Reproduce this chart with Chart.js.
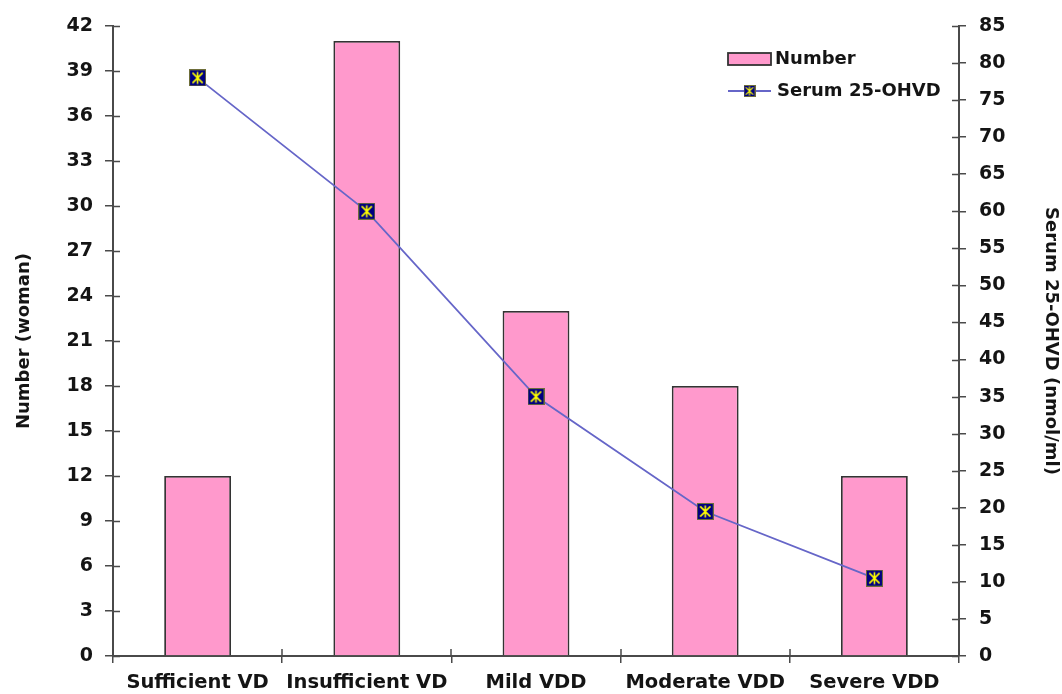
<!DOCTYPE html>
<html>
<head>
<meta charset="utf-8">
<script src="https://cdn.jsdelivr.net/npm/chart.js@4.4.1/dist/chart.umd.min.js"></script>
<style>
  html, body { margin: 0; padding: 0; background: #ffffff; }
  #wrap { width: 1062px; height: 694px; }
</style>
</head>
<body>
<div id="wrap"><canvas id="c" width="1062" height="694"></canvas></div>
<script>
// Vitamin D status groups
const categories = ['Sufficient VD', 'Insufficient VD', 'Mild VDD', 'Moderate VDD', 'Severe VDD'];
// Number of women in each group (left axis)
const numberOfWomen = [12, 41, 23, 18, 12];
// Mean serum 25-OHVD per group, nmol/ml (right axis)
const serum25OHVD = [78, 60, 35, 19.5, 10.5];
// Axis ranges and tick steps
const leftAxisRange = [0, 42];
const leftAxisStep = 3;
const rightAxisRange = [0, 85];
const rightAxisStep = 5;

const TEXT = '#141414';
const AXIS = '#4a4a4a';
const BAR_FILL = '#FF99CC';
const BAR_EDGE = '#333333';
const LINE = '#6666C8';

// Star marker: navy square with a yellow X and vertical stroke
function makeMarker(size) {
  const cv = document.createElement('canvas');
  cv.width = size; cv.height = size;
  const g = cv.getContext('2d');
  g.fillStyle = '#6e6e3a';
  g.fillRect(0, 0, size, size);
  g.fillStyle = '#000080';
  g.fillRect(1, 1, size - 2, size - 2);
  g.strokeStyle = '#FFFF00';
  g.lineWidth = size > 12 ? 1.6 : 1.2;
  const a = size * 0.2, b = size * 0.8, m = size / 2;
  g.beginPath();
  g.moveTo(a, a); g.lineTo(b, b);
  g.moveTo(b, a); g.lineTo(a, b);
  g.moveTo(m, a - 1); g.lineTo(m, b + 1);
  g.stroke();
  return cv;
}
const pointMarker = makeMarker(17);
const legendMarker = makeMarker(12);

Chart.defaults.font.family = '"DejaVu Sans", "Liberation Sans", Arial, sans-serif';
Chart.defaults.font.weight = 'bold';
Chart.defaults.color = TEXT;

// Short tick marks on the inner side of every axis
const innerTicks = {
  id: 'innerTicks',
  afterDraw(chart) {
    const { ctx, chartArea: ca, scales } = chart;
    ctx.save();
    ctx.strokeStyle = AXIS;
    ctx.lineWidth = 1.5;
    ctx.beginPath();
    scales.y.ticks.forEach(t => {
      const py = Math.round(scales.y.getPixelForValue(t.value)) + 0.5;
      ctx.moveTo(ca.left, py); ctx.lineTo(ca.left + 7, py);
    });
    scales.y1.ticks.forEach(t => {
      const py = Math.round(scales.y1.getPixelForValue(t.value)) + 0.5;
      ctx.moveTo(ca.right - 7, py); ctx.lineTo(ca.right, py);
    });
    for (let i = 0; i <= categories.length; i++) {
      const px = Math.round(scales.x.getPixelForValue(i - 0.5));
      ctx.moveTo(px, ca.bottom); ctx.lineTo(px, ca.bottom - 7);
    }
    ctx.stroke();
    ctx.restore();
  }
};

// Legend drawn inside the plot, top right
const insideLegend = {
  id: 'insideLegend',
  afterDraw(chart) {
    const { ctx, chartArea: ca } = chart;
    const bars = chart.data.datasets[0];
    const line = chart.data.datasets[1];
    const x0 = ca.right - 231;
    const y0 = ca.top + 33;
    const y1 = ca.top + 65;
    ctx.save();
    ctx.font = 'bold 18px "DejaVu Sans", sans-serif';
    ctx.textBaseline = 'middle';
    // bar swatch
    ctx.fillStyle = bars.backgroundColor;
    ctx.fillRect(x0, y0 - 6, 43, 12);
    ctx.strokeStyle = bars.borderColor;
    ctx.lineWidth = 1.8;
    ctx.strokeRect(x0, y0 - 6, 43, 12);
    ctx.fillStyle = TEXT;
    ctx.fillText(bars.label, x0 + 47, y0);
    // line swatch
    ctx.strokeStyle = line.borderColor;
    ctx.lineWidth = line.borderWidth;
    ctx.beginPath();
    ctx.moveTo(x0, y1); ctx.lineTo(x0 + 43, y1);
    ctx.stroke();
    ctx.drawImage(legendMarker, x0 + 21.5 - legendMarker.width / 2, y1 - legendMarker.height / 2);
    ctx.fillText(line.label, x0 + 49, y1);
    ctx.restore();
  }
};

new Chart(document.getElementById('c'), {
  data: {
    labels: categories,
    datasets: [
      {
        type: 'bar',
        label: 'Number',
        data: numberOfWomen,
        yAxisID: 'y',
        backgroundColor: BAR_FILL,
        borderColor: BAR_EDGE,
        borderWidth: 1.8,
        barPercentage: 0.395,
        categoryPercentage: 1.0,
        order: 2
      },
      {
        type: 'line',
        label: 'Serum 25-OHVD',
        data: serum25OHVD,
        yAxisID: 'y1',
        borderColor: LINE,
        borderWidth: 1.8,
        tension: 0,
        pointStyle: pointMarker,
        pointRadius: 8,
        order: 1
      }
    ]
  },
  options: {
    responsive: false,
    animation: false,
    devicePixelRatio: 1,
    layout: { padding: { top: 26, left: 0, right: 0, bottom: 0 } },
    plugins: {
      legend: { display: false },
      tooltip: { enabled: false }
    },
    scales: {
      x: {
        grid: { display: true, offset: true, drawOnChartArea: false, drawTicks: true, tickLength: 7, color: AXIS, lineWidth: 1.5 },
        border: { display: true, color: AXIS, width: 2 },
        ticks: { autoSkip: false, maxRotation: 0, minRotation: 0, padding: 8, color: TEXT, font: { size: 19.5, weight: 'bold' } },
        afterFit(s) { s.height = 38; }
      },
      y: {
        position: 'left',
        min: leftAxisRange[0],
        max: leftAxisRange[1],
        grid: { display: true, drawOnChartArea: false, tickLength: 8, color: AXIS, lineWidth: 1.5 },
        border: { display: true, color: AXIS, width: 2 },
        ticks: { stepSize: leftAxisStep, padding: 12, color: TEXT, font: { size: 19, weight: 'bold' } },
        title: { display: true, text: 'Number (woman)', color: TEXT, font: { size: 18, weight: 'bold' }, padding: { top: 14, bottom: 0 } },
        afterFit(s) { s.width = 113; }
      },
      y1: {
        position: 'right',
        min: rightAxisRange[0],
        max: rightAxisRange[1],
        grid: { display: true, drawOnChartArea: false, tickLength: 7, color: AXIS, lineWidth: 1.5 },
        border: { display: true, color: AXIS, width: 2 },
        ticks: { stepSize: rightAxisStep, padding: 13, color: TEXT, font: { size: 19, weight: 'bold' } },
        title: { display: true, text: 'Serum 25-OHVD (nmol/ml)', color: TEXT, font: { size: 18, weight: 'bold' }, padding: { top: 1, bottom: 0 } },
        afterFit(s) { s.width = 103; }
      }
    }
  },
  plugins: [innerTicks, insideLegend]
});
</script>
</body>
</html>
